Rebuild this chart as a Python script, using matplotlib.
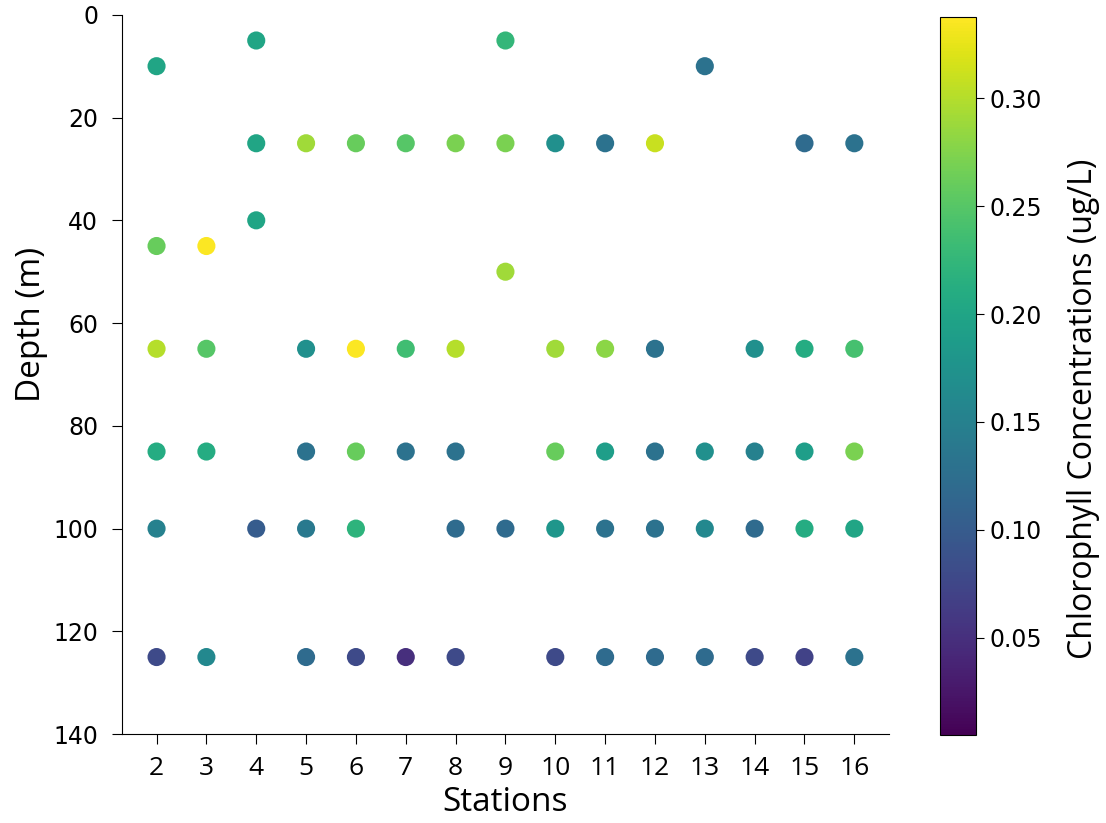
import matplotlib
matplotlib.use('Agg')
import matplotlib.pyplot as plt
import numpy as np

# station / depth / chlorophyll readings
stations = [2, 2, 2, 2, 2, 2,
            3, 3, 3, 3,
            4, 4, 4, 4,
            5, 5, 5, 5, 5,
            6, 6, 6, 6, 6,
            7, 7, 7, 7,
            8, 8, 8, 8, 8,
            9, 9, 9, 9,
            10, 10, 10, 10, 10,
            11, 11, 11, 11, 11,
            12, 12, 12, 12, 12,
            13, 13, 13, 13,
            14, 14, 14, 14,
            15, 15, 15, 15, 15,
            16, 16, 16, 16, 16]
depths = [10, 45, 65, 85, 100, 125,
          45, 65, 85, 125,
          5, 25, 40, 100,
          25, 65, 85, 100, 125,
          25, 65, 85, 100, 125,
          25, 65, 85, 125,
          25, 65, 85, 100, 125,
          5, 25, 50, 100,
          25, 65, 85, 100, 125,
          25, 65, 85, 100, 125,
          25, 65, 85, 100, 125,
          10, 85, 100, 125,
          65, 85, 100, 125,
          25, 65, 85, 100, 125,
          25, 65, 85, 100, 125]
chl = [0.20, 0.26, 0.30, 0.21, 0.15, 0.08,
       0.335, 0.25, 0.21, 0.16,
       0.20, 0.20, 0.20, 0.10,
       0.29, 0.17, 0.13, 0.14, 0.12,
       0.26, 0.335, 0.26, 0.22, 0.08,
       0.25, 0.235, 0.13, 0.05,
       0.27, 0.30, 0.13, 0.12, 0.08,
       0.225, 0.27, 0.29, 0.12,
       0.17, 0.29, 0.26, 0.18, 0.08,
       0.13, 0.28, 0.19, 0.13, 0.12,
       0.31, 0.13, 0.13, 0.13, 0.12,
       0.13, 0.17, 0.16, 0.12,
       0.17, 0.15, 0.12, 0.08,
       0.12, 0.21, 0.19, 0.21, 0.07,
       0.13, 0.24, 0.27, 0.20, 0.13]

x_ticks = list(range(2, 17))
y_ticks = [0, 20, 40, 60, 80, 100, 120, 140]
cbar_ticks = [0.05, 0.10, 0.15, 0.20, 0.25, 0.30]

label_font = ['Open Sans', 'DejaVu Sans']

fig = plt.figure(figsize=(11.06, 8.23), dpi=100)
ax = fig.add_axes([0.110, 0.108, 0.694, 0.874])
cax = fig.add_axes([0.850, 0.107, 0.0326, 0.872])

sc = ax.scatter(stations, depths, c=chl, cmap='viridis', s=170,
                vmin=0.005, vmax=0.3375, edgecolors='none')

ax.set_ylim(140, 0)
ax.set_yticks(y_ticks)
ax.set_xticks(x_ticks)
ax.spines['top'].set_visible(False)
ax.spines['right'].set_visible(False)
ax.tick_params(axis='y', labelsize=17, length=7, pad=10)
ax.tick_params(axis='x', labelsize=19, length=7, pad=9)
for lbl in ax.get_xticklabels():
    lbl.set_family(label_font)
ax.set_xlabel('Stations', fontsize=24, family=label_font, labelpad=3)
ax.set_ylabel('Depth (m)', fontsize=24, family=label_font, labelpad=4, y=0.57)

cb = fig.colorbar(sc, cax=cax)
cb.set_ticks(cbar_ticks)
cb.ax.tick_params(labelsize=17, length=6)
cb.set_label('Chlorophyll Concentrations (ug/L)', fontsize=23, family=label_font,
             labelpad=18, y=0.455)

fig.savefig('out.png', dpi=100)
